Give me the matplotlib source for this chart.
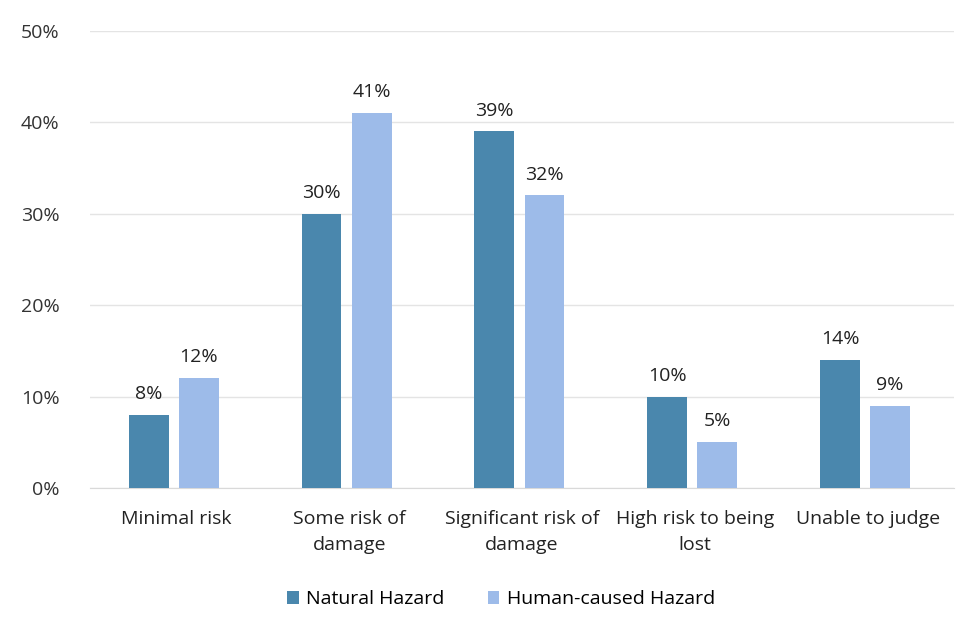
import numpy as np
import matplotlib.pyplot as plt

plt.rcParams['font.family'] = ['Open Sans', 'DejaVu Sans']

categories = ["Minimal risk", "Some risk of\ndamage", "Significant risk of\ndamage",
              "High risk to being\nlost", "Unable to judge"]
natural = [8, 30, 39, 10, 14]
human = [12, 41, 32, 5, 9]
yticks = [0, 10, 20, 30, 40, 50]

fig = plt.figure(figsize=(9.73, 6.31), dpi=100)
ax = fig.add_axes([0.0925, 0.2266, 0.888, 0.7244])

x = np.arange(len(categories))
w = 0.23
b1 = ax.bar(x - 0.16, natural, w, color='#4a87ad', label='Natural Hazard', zorder=3)
b2 = ax.bar(x + 0.13, human, w, color='#9dbbe9', label='Human-caused Hazard', zorder=3)

for bars, vals in ((b1, natural), (b2, human)):
    for r, v in zip(bars, vals):
        ax.text(r.get_x() + r.get_width() / 2, v + 1.3, f"{v}%", ha='center', va='bottom',
                fontsize=14, color='#222222')

ax.set_xlim(-0.5, len(categories) - 0.5)
ax.set_ylim(0, 50)
ax.set_yticks(yticks)
ax.set_yticklabels([f"{t}%" for t in yticks], fontsize=14, color='#333333')
ax.set_xticks(x)
ax.set_xticklabels(categories, fontsize=14, color='#222222', linespacing=1.55)
ax.tick_params(length=0)
ax.tick_params(axis='x', pad=16)
ax.tick_params(axis='y', pad=22)
ax.grid(axis='y', color='#e4e4e4', linewidth=1, zorder=0)
for s in ['top', 'right', 'left']:
    ax.spines[s].set_visible(False)
ax.spines['bottom'].set_color('#d9d9d9')

fig.legend(loc='center', bbox_to_anchor=(0.515, 0.05), ncol=2, frameon=False,
           fontsize=14, handlelength=0.6, handleheight=0.6, columnspacing=2.2,
           handletextpad=0.4)

fig.savefig('out.png', dpi=100)
